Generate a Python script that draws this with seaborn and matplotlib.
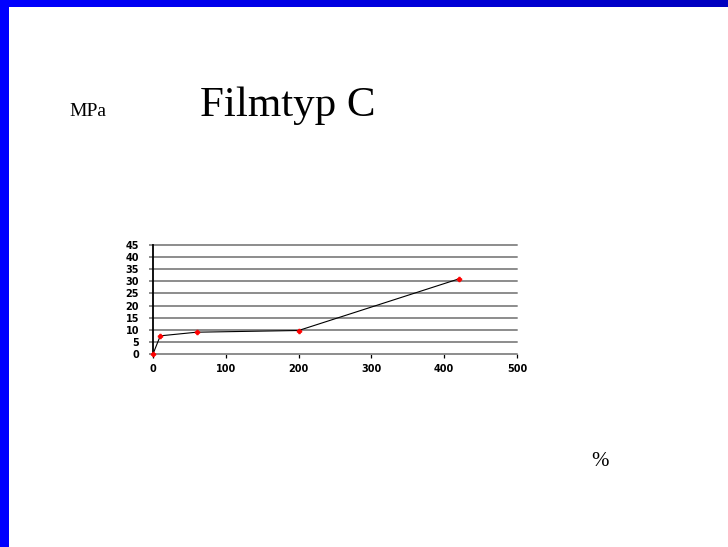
import numpy as np
import matplotlib
matplotlib.use("Agg")
import matplotlib.pyplot as plt
import seaborn as sns
import pandas as pd

# Tensile curve for film type C: strain (%) vs stress (MPa)
strain_pct = [0, 10, 60, 200, 420]
stress_mpa = [0, 7.5, 9.0, 9.7, 31.0]
x_ticks = [0, 100, 200, 300, 400, 500]
y_ticks = [0, 5, 10, 15, 20, 25, 30, 35, 40, 45]

sns.set_theme(style="white")
plt.rcParams["font.family"] = ["DejaVu Sans"]

W, H = 728, 547
fig = plt.figure(figsize=(W / 100, H / 100), dpi=100)
fig.patch.set_facecolor("white")

# Slide frame: solid blue left bar and top bar shading darker to the right
bg = fig.add_axes([0, 0, 1, 1], zorder=-5)
grad = np.linspace(0, 1, 256)
top = np.zeros((1, 256, 3))
top[0, :, 2] = 1.0 - 0.25 * grad
bg.imshow(top, extent=[0, W, 7, 0], aspect="auto")
bg.add_patch(plt.Rectangle((0, 0), 8.7, H, color=(0, 0, 1), lw=0))
bg.set_xlim(0, W)
bg.set_ylim(H, 0)
bg.axis("off")

df = pd.DataFrame({"strain": strain_pct, "stress": stress_mpa})

ax = fig.add_axes([153 / W, 1 - 354 / H, (517 - 153) / W, (354 - 245) / H])
ax.set_facecolor("none")
sns.lineplot(data=df, x="strain", y="stress", ax=ax, color="black",
             linewidth=0.8, marker="P", markersize=3.2,
             markerfacecolor="red", markeredgecolor="red", zorder=5,
             clip_on=False)

ax.set_xlim(0, 500)
ax.set_ylim(0, 45)
ax.set_xticks(x_ticks)
ax.set_yticks(y_ticks)
ax.set_xlabel("")
ax.set_ylabel("")
ax.yaxis.grid(True, color="#8c8c8c", linewidth=1.4)
ax.xaxis.grid(False)
for gl in ax.get_ygridlines():
    gl.set_clip_on(False)
for s in ["top", "right", "bottom"]:
    ax.spines[s].set_visible(False)
ax.spines["left"].set_color("black")
ax.spines["left"].set_linewidth(1.3)
ax.spines["left"].set_zorder(4)
ax.tick_params(axis="x", bottom=True, direction="out", length=3, width=0.9,
               color="black", labelcolor="black", labelsize=7, pad=4)
ax.tick_params(axis="y", left=True, direction="out", length=3, width=1.4,
               color="#8c8c8c", labelcolor="black", labelsize=7, pad=7)
for lab in ax.get_xticklabels() + ax.get_yticklabels():
    lab.set_fontweight("bold")

serif = ["Liberation Serif", "DejaVu Serif"]
fig.text(288 / W, 1 - 106 / H, "Filmtyp C", family=serif, fontsize=31,
         ha="center", va="center", color="black")
fig.text(88 / W, 1 - 111 / H, "MPa", family=serif, fontsize=14,
         ha="center", va="center", color="black")
fig.text(600 / W, 1 - 461 / H, "%", family=serif, fontsize=15,
         ha="center", va="center", color="black")

fig.savefig("out.png", dpi=100, facecolor="white")
